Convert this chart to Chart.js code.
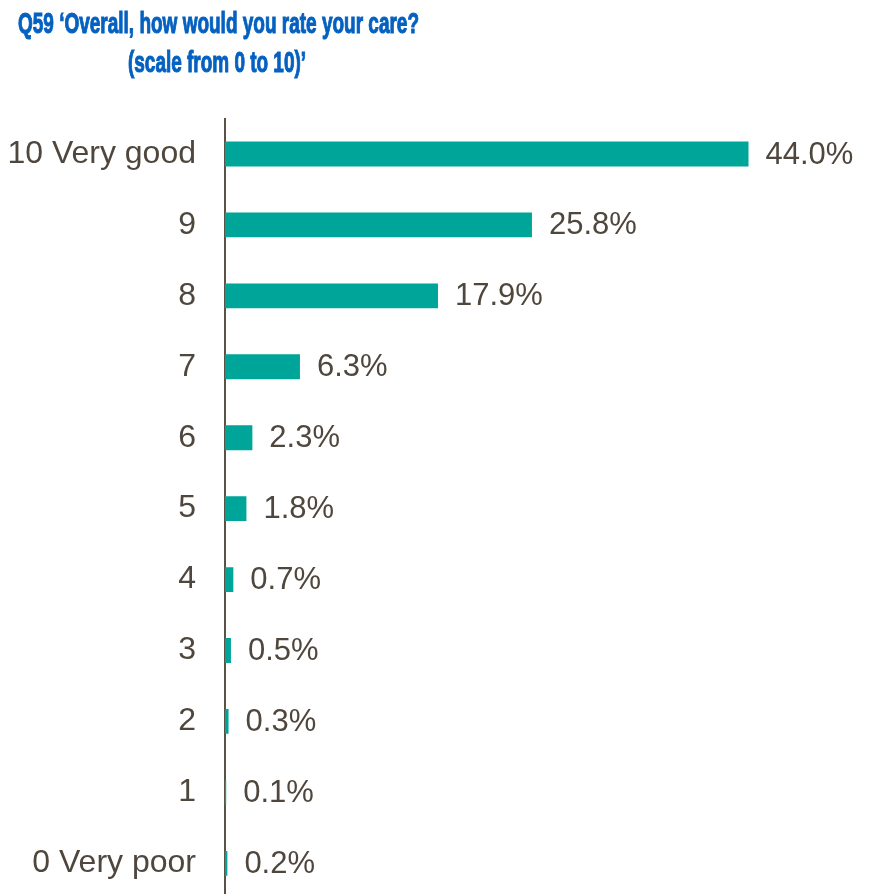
<!DOCTYPE html>
<html>
<head>
<meta charset="utf-8">
<script src="https://cdn.jsdelivr.net/npm/chart.js@4"></script>
<style>
  html, body { margin: 0; padding: 0; background: #fff; overflow: hidden; }
  #wrap { width: 877px; height: 947px; }
</style>
</head>
<body>
<div id="wrap"><canvas id="chart" width="877" height="947"></canvas></div>
<script>
// Дані з графіка
const titleLines = ["Q59 \u2018Overall, how would you rate your care?", "(scale from 0 to 10)\u2019"]
const ratings = ["10 Very good", "9", "8", "7", "6", "5", "4", "3", "2", "1", "0 Very poor"]
const percents = [44.0, 25.8, 17.9, 6.3, 2.3, 1.8, 0.7, 0.5, 0.3, 0.1, 0.2]

const textColor = "#4f473d"
const barColor = "#00a59a"
const font = "'Liberation Sans', Arial, sans-serif"

// Заголовок у два рядки, стиснутий по ширині
const titlePlugin = {
  id: "twoLineTitle",
  afterDraw(chart) {
    const ctx = chart.ctx
    ctx.save()
    ctx.fillStyle = "#0561c0"
    ctx.strokeStyle = "#0561c0"
    ctx.lineWidth = 1.1
    ctx.font = "bold 30px " + font
    ctx.textAlign = "left"
    ctx.textBaseline = "alphabetic"
    ctx.fillText(titleLines[0], 18, 33, 401)
    ctx.strokeText(titleLines[0], 18, 33, 401)
    ctx.fillText(titleLines[1], 128, 72, 178)
    ctx.strokeText(titleLines[1], 128, 72, 178)
    ctx.restore()
  },
}

// Підписи значень праворуч від стовпців
const valueLabels = {
  id: "valueLabels",
  afterDatasetsDraw(chart) {
    const ctx = chart.ctx
    const meta = chart.getDatasetMeta(0)
    ctx.save()
    ctx.fillStyle = textColor
    ctx.font = "31px " + font
    ctx.textAlign = "left"
    ctx.textBaseline = "middle"
    meta.data.forEach((bar, i) => {
      ctx.fillText(percents[i].toFixed(1) + "%", bar.x + 17, bar.y + 1)
    })
    ctx.restore()
  },
}

new Chart(document.getElementById("chart"), {
  type: "bar",
  data: {
    labels: ratings,
    datasets: [
      {
        data: percents,
        backgroundColor: barColor,
        borderWidth: 0,
        barPercentage: 0.5,
        categoryPercentage: 0.7,
      },
    ],
  },
  options: {
    indexAxis: "y",
    responsive: false,
    animation: false,
    layout: { padding: { top: 118.5, right: 0, bottom: 0, left: 0 } },
    plugins: {
      legend: { display: false },
      tooltip: { enabled: false },
      title: { display: false },
    },
    scales: {
      x: {
        display: false,
        min: 0,
        max: 54.8,
      },
      y: {
        afterFit(scale) {
          scale.width = 225
        },
        grid: { display: false, drawTicks: false },
        border: { display: true, color: "#5b5247", width: 2 },
        ticks: {
          color: textColor,
          padding: 29,
          font: { family: font, size: 32 },
        },
      },
    },
  },
  plugins: [titlePlugin, valueLabels],
})
</script>
</body>
</html>
